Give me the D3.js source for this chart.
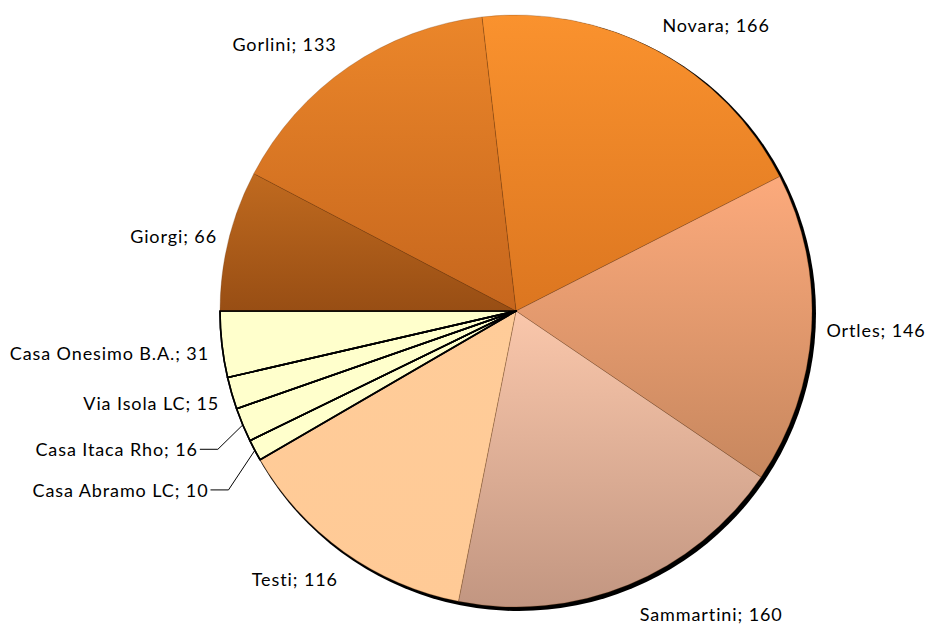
<!DOCTYPE html>
<html>
<head>
<meta charset="utf-8">
<script src="https://cdn.jsdelivr.net/npm/d3@7"></script>
<style>
  html, body { margin: 0; padding: 0; background: #ffffff; }
  svg text { font-family: Lato, "Open Sans", sans-serif; font-size: 18px; letter-spacing: 0.9px; fill: #000; }
</style>
</head>
<body>
<svg id="chart" width="928" height="626"></svg>
<script>
// ---- data ----
const categories = ["Novara", "Ortles", "Sammartini", "Testi", "Casa Abramo LC",
                    "Casa Itaca Rho", "Via Isola LC", "Casa Onesimo B.A.", "Giorgi", "Gorlini"];
const values = [166, 146, 160, 116, 10, 16, 15, 31, 66, 133];

// ---- styles ----
const topColors    = ["#fa922e", "#fcaa7c", "#fac7ab", "#ffcc99", "#ffffcc", "#ffffcc", "#ffffcc", "#ffffcc", "#c06a1f", "#eb862a"];
const bottomColors = ["#dc7620", "#c7875e", "#c29681", "#ffca96", "#ffffcc", "#ffffcc", "#ffffcc", "#ffffcc", "#984e14", "#c6661d"];
const outlined     = [false, false, false, false, true, true, true, true, false, false];
// label layout tweaks [dx, dy] relative to the automatic placement
const labelNudge = [[0, -2], [1, 1], [6, 10], [2, 10], [-34, 27], [-32, 13], [1, 0], [1, 8], [2, 0], [-4, 0]];
const hasLeader  = [false, false, false, false, true, true, false, false, false, false];

const W = 928, H = 626;
const cx = 516, cy = 311, R = 296;
const firstSliceAngle = -6.6 * Math.PI / 180;

const svg = d3.select("#chart");
const defs = svg.append("defs");

const pie = d3.pie().sort(null).value(d => d)
  .startAngle(firstSliceAngle).endAngle(firstSliceAngle + 2 * Math.PI);
const arcs = pie(values);
const arc = d3.arc().innerRadius(0).outerRadius(R);

categories.forEach((c, i) => {
  const g = defs.append("linearGradient").attr("id", "grad" + i)
    .attr("x1", 0).attr("y1", 0).attr("x2", 0).attr("y2", 1);
  g.append("stop").attr("offset", "0%").attr("stop-color", topColors[i]);
  g.append("stop").attr("offset", "100%").attr("stop-color", bottomColors[i]);
});

const root = svg.append("g").attr("transform", `translate(${cx},${cy})`);

// shadow
root.append("circle").attr("cx", 2.5).attr("cy", 2.5).attr("r", R + 1.5).attr("fill", "#000");

root.selectAll("path.slice").data(arcs).enter().append("path")
  .attr("class", "slice")
  .attr("d", arc)
  .attr("fill", (d, i) => `url(#grad${i})`)
  .attr("stroke", (d, i) => outlined[i] ? "#000" : "rgba(110,55,15,0.45)")
  .attr("stroke-width", (d, i) => outlined[i] ? 1.6 : 0.6)
  .attr("stroke-linejoin", "round");

// re-draw outlined slices on top so black borders are complete
root.selectAll("path.outl").data(arcs.filter((d, i) => outlined[i])).enter().append("path")
  .attr("class", "outl")
  .attr("d", arc)
  .attr("fill", "none")
  .attr("stroke", "#000")
  .attr("stroke-width", 1.6)
  .attr("stroke-linejoin", "round");

// labels
const pad = 14;
arcs.forEach((d, i) => {
  const mid = (d.startAngle + d.endAngle) / 2;
  const s = Math.sin(mid), c = Math.cos(mid);
  let x = (R + pad) * s + labelNudge[i][0];
  let y = -(R + pad) * c;
  const anchor = s > 0.25 ? "start" : (s < -0.25 ? "end" : "middle");
  let base;
  if (c > 0.25) base = y - 4;        // label sits above point
  else if (c < -0.25) base = y + 13; // label hangs below point
  else base = y + 6;                 // vertically centred
  base += labelNudge[i][1];
  root.append("text")
    .attr("x", x).attr("y", base)
    .attr("text-anchor", anchor)
    .text(`${categories[i]}; ${values[i]}`);
  if (hasLeader[i]) {
    const ex = R * s, ey = -R * c;
    const ly = base - 7;
    root.append("polyline")
      .attr("points", `${x + 2},${ly} ${x + 20},${ly} ${ex},${ey}`)
      .attr("fill", "none").attr("stroke", "#000").attr("stroke-width", 1);
  }
});
</script>
</body>
</html>
